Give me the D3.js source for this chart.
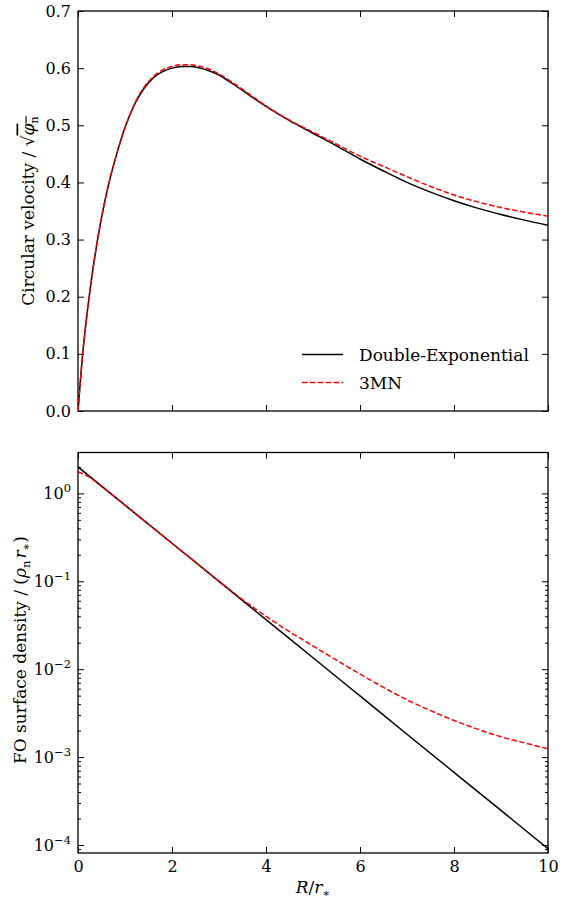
<!DOCTYPE html>
<html>
<head>
<meta charset="utf-8">
<script src="https://cdn.jsdelivr.net/npm/d3@7"></script>
<style>
  body { margin: 0; background: #fff; }
  svg text { font-family: "DejaVu Serif", serif; fill: #000; }
</style>
</head>
<body>
<div id="chart"></div>
<script>
// circular velocity panel
const R_vc = [0, 0.1, 0.2, 0.3, 0.4, 0.5, 0.6, 0.7, 0.8, 0.9, 1.0, 1.2, 1.4, 1.6, 1.8, 2.0, 2.2, 2.4, 2.6, 2.8,
              3.0, 3.25, 3.5, 4.0, 4.5, 5.0, 5.5, 6.0, 6.5, 7.0, 7.5, 8.0, 8.5, 9.0, 9.5, 10];
const vc_dexp = [0, 0.100, 0.175, 0.238, 0.292, 0.338, 0.378, 0.413, 0.443, 0.471, 0.496, 0.536, 0.564, 0.583, 0.594, 0.600, 0.603, 0.603, 0.600, 0.595,
                 0.588, 0.575, 0.561, 0.533, 0.508, 0.486, 0.464, 0.441, 0.420, 0.400, 0.383, 0.368, 0.355, 0.344, 0.334, 0.325];
const vc_3mn = [0, 0.100, 0.175, 0.238, 0.292, 0.338, 0.378, 0.413, 0.443, 0.471, 0.496, 0.537, 0.566, 0.585, 0.597, 0.603, 0.606, 0.606, 0.603, 0.598,
                0.590, 0.577, 0.563, 0.534, 0.509, 0.488, 0.467, 0.446, 0.428, 0.410, 0.393, 0.378, 0.366, 0.356, 0.348, 0.341];

// surface density panel
const R_sd = [0, 1, 2, 3, 4, 5, 6, 7, 8, 9, 10];
const sd_dexp = [2.0, 0.736, 0.271, 0.0996, 0.0366, 0.0135, 0.00496, 0.00182, 0.00067, 0.000247, 0.0000908];
const R_sd3 = [0, 0.25, 0.5, 1, 1.5, 2, 2.5, 3, 3.5, 4, 4.5, 5, 5.5, 6, 6.5, 7, 7.5, 8, 8.5, 9, 9.5, 10];
const sd_3mn = [1.77, 1.52, 1.2, 0.735, 0.446, 0.271, 0.165, 0.1005, 0.0621, 0.0400, 0.0267, 0.0184, 0.01265,
                0.0088, 0.0062, 0.00448, 0.00338, 0.00261, 0.00208, 0.0017, 0.00145, 0.00124];

const xTicks = [0, 2, 4, 6, 8, 10];
const vcTicks = [0, 0.1, 0.2, 0.3, 0.4, 0.5, 0.6, 0.7];
const sdExps = [0, -1, -2, -3, -4];
const legendNames = ["Double-Exponential", "3MN"];

const col = { dexp: "#000000", mn: "#ff0000" };

let width = 563, height = 902;
const left = 78, right = 548;
const top1 = 11, bot1 = 411, top2 = 452.5, bot2 = 853;
const fs = 16, fl = 17;

let svg = d3.select("#chart").append("svg")
    .attr("width", width).attr("height", height);

let x = d3.scaleLinear().domain([0, 10]).range([left, right]);
let y1 = d3.scaleLinear().domain([0, 0.7]).range([bot1, top1]);
let y2 = d3.scaleLog().domain([8.1e-5, 2.92]).range([bot2, top2]);

const frame = (t, b) => {
    // ticks on all four sides, pointing in
    svg.append("g").attr("transform", `translate(0,${b})`)
        .call(d3.axisBottom(x).tickValues(xTicks).tickSizeInner(-6).tickSizeOuter(0).tickPadding(8)
            .tickFormat(b === bot2 ? d3.format("d") : ""))
        .call(g => g.select(".domain").remove());
    svg.append("g").attr("transform", `translate(0,${t})`)
        .call(d3.axisTop(x).tickValues(xTicks).tickSizeInner(-6).tickSizeOuter(0).tickFormat(""))
        .call(g => g.select(".domain").remove());
}

frame(top1, bot1);
frame(top2, bot2);

// top panel y axes
svg.append("g").attr("transform", `translate(${left},0)`)
    .call(d3.axisLeft(y1).tickValues(vcTicks).tickSizeInner(-6).tickSizeOuter(0)
        .tickPadding(7).tickFormat(d3.format(".1f")))
    .call(g => g.select(".domain").remove());
svg.append("g").attr("transform", `translate(${right},0)`)
    .call(d3.axisRight(y1).tickValues(vcTicks).tickSizeInner(-6).tickSizeOuter(0).tickFormat(""))
    .call(g => g.select(".domain").remove());

// bottom panel log axes
let majors = sdExps.map(e => Math.pow(10, e));
let minors = [];
[-5, -4, -3, -2, -1, 0].forEach(e => {
    for (let k = 2; k <= 9; k++) {
        let v = k * Math.pow(10, e);
        if (v >= y2.domain()[0] && v <= y2.domain()[1]) minors.push(v);
    }
});

[[left, d3.axisLeft], [right, d3.axisRight]].forEach(([px, ax]) => {
    svg.append("g").attr("transform", `translate(${px},0)`)
        .call(ax(y2).tickValues(minors).tickSizeInner(-3).tickSizeOuter(0).tickFormat(""))
        .call(g => g.select(".domain").remove());
    let g = svg.append("g").attr("transform", `translate(${px},0)`)
        .call(ax(y2).tickValues(majors).tickSizeInner(-6).tickSizeOuter(0).tickPadding(7)
            .tickFormat(px === left ? (d => "10") : ""));
    g.select(".domain").remove();
    if (px === left) {
        g.selectAll(".tick text").each(function(d) {
            let e = Math.round(Math.log10(d));
            d3.select(this).append("tspan").attr("dy", -7).attr("font-size", 11.5)
                .text(e === 0 ? "0" : "\u2212" + (-e));
        });
    }
});

svg.selectAll("g").attr("font-family", null);
svg.selectAll(".tick text").attr("font-size", fs);
svg.selectAll(".tick line").attr("stroke", "#000").attr("stroke-width", 1);

// frames
[[top1, bot1], [top2, bot2]].forEach(([t, b]) => {
    svg.append("rect").attr("x", left).attr("y", t).attr("width", right - left).attr("height", b - t)
        .attr("fill", "none").attr("stroke", "#000").attr("stroke-width", 1.3);
});

// curves
let clip = svg.append("defs");
clip.append("clipPath").attr("id", "c1").append("rect")
    .attr("x", left).attr("y", top1).attr("width", right - left).attr("height", bot1 - top1);
clip.append("clipPath").attr("id", "c2").append("rect")
    .attr("x", left).attr("y", top2).attr("width", right - left).attr("height", bot2 - top2);

const lineg = (xs, ys, ysc) => d3.line()
    .x((d, i) => x(xs[i])).y((d, i) => ysc(ys[i]))
    .curve(d3.curveMonotoneX)(xs);

let g1 = svg.append("g").attr("clip-path", "url(#c1)");
g1.append("path").attr("d", lineg(R_vc, vc_dexp, y1))
    .attr("fill", "none").attr("stroke", col.dexp).attr("stroke-width", 1.5);
g1.append("path").attr("d", lineg(R_vc, vc_3mn, y1))
    .attr("fill", "none").attr("stroke", col.mn).attr("stroke-width", 1.5)
    .attr("stroke-dasharray", "5.5,2.4");

let g2 = svg.append("g").attr("clip-path", "url(#c2)");
g2.append("path").attr("d", lineg(R_sd, sd_dexp, y2))
    .attr("fill", "none").attr("stroke", col.dexp).attr("stroke-width", 1.5);
g2.append("path").attr("d", lineg(R_sd3, sd_3mn, y2))
    .attr("fill", "none").attr("stroke", col.mn).attr("stroke-width", 1.5)
    .attr("stroke-dasharray", "5.5,2.4");

// legend
let lg = svg.append("g");
legendNames.forEach((name, i) => {
    let ly = 354.5 + i * 28;
    lg.append("line").attr("x1", 302).attr("x2", 343).attr("y1", ly).attr("y2", ly)
        .attr("stroke", i === 0 ? col.dexp : col.mn).attr("stroke-width", 1.5)
        .attr("stroke-dasharray", i === 0 ? null : "5.5,2.4");
    lg.append("text").attr("x", 359).attr("y", ly + 6.5).attr("font-size", fl).text(name);
});

// axis labels
let yl1 = svg.append("text").attr("transform", `translate(33.5,211) rotate(-90)`)
    .attr("text-anchor", "middle").attr("font-size", fl);
yl1.append("tspan").text("Circular velocity / \u221A");
yl1.append("tspan").attr("font-style", "italic").attr("text-decoration", "overline").text("\u03C6");
yl1.append("tspan").attr("font-size", 11.5).attr("dy", 4).attr("text-decoration", "overline").text("n");

let yl2 = svg.append("text").attr("transform", `translate(26,650) rotate(-90)`)
    .attr("text-anchor", "middle").attr("font-size", fl);
yl2.append("tspan").text("FO surface density / (");
yl2.append("tspan").attr("font-style", "italic").text("\u03C1");
yl2.append("tspan").attr("font-size", 11.5).attr("dy", 4).text("n");
yl2.append("tspan").attr("font-style", "italic").attr("dy", -4).attr("dx", 2).text("r");
yl2.append("tspan").attr("font-size", 11.5).attr("dy", 4).text("\u2217");
yl2.append("tspan").attr("dy", -4).text(")");

let xl = svg.append("text").attr("x", (left + right) / 2).attr("y", 893)
    .attr("text-anchor", "middle").attr("font-size", fl);
xl.append("tspan").attr("font-style", "italic").text("R");
xl.append("tspan").text("/");
xl.append("tspan").attr("font-style", "italic").text("r");
xl.append("tspan").attr("font-size", 11.5).attr("dy", 4).text("\u2217");
</script>
</body>
</html>
